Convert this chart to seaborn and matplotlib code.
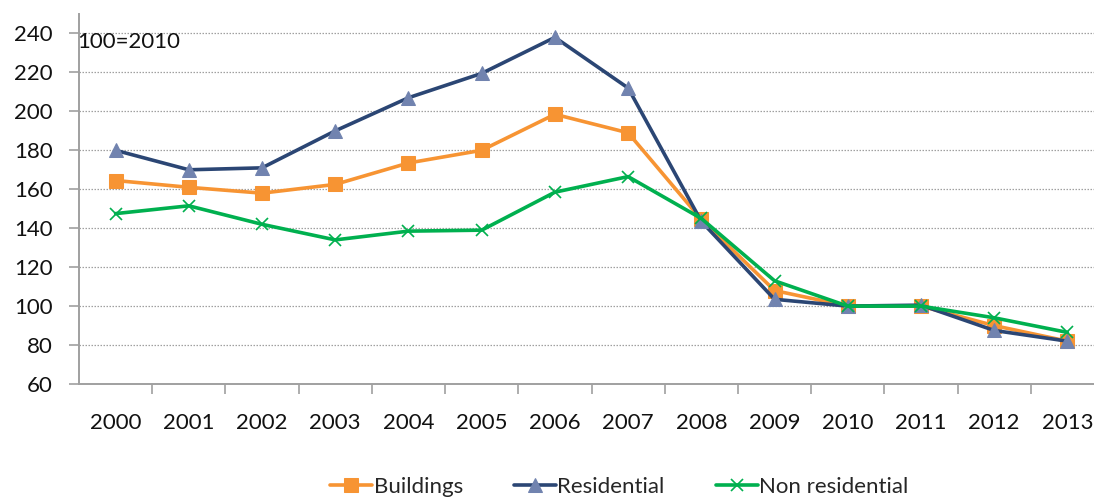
import matplotlib
matplotlib.use("Agg")
import matplotlib.pyplot as plt
from matplotlib.ticker import FixedLocator, NullFormatter
import seaborn as sns
import pandas as pd

years = [2000, 2001, 2002, 2003, 2004, 2005, 2006, 2007, 2008, 2009, 2010, 2011, 2012, 2013]
buildings = [164.5, 161, 158, 162.5, 173.5, 180, 198.5, 189, 144.5, 108, 100, 100, 90, 82]
residential = [180, 170, 171, 190, 207, 219.5, 238, 212, 143.5, 103.5, 100, 100.5, 87.5, 82]
non_residential = [147.5, 151.5, 142, 134, 138.5, 139, 158.5, 166.5, 145, 113, 100, 100, 94, 86.5]

df = pd.DataFrame({'year': years, 'Buildings': buildings,
                   'Residential': residential, 'Non residential': non_residential})

sns.set_style('white')
plt.rcParams['font.family'] = ['Lato', 'DejaVu Sans']
fs = 16

fig = plt.figure(figsize=(10.94, 5.04), dpi=100)
ax = fig.add_axes([79 / 1094, 120 / 504, 1025 / 1094, 370 / 504])

sns.lineplot(data=df, x='year', y='Buildings', ax=ax, color='#F79433', lw=2.6,
             marker='s', markersize=9.5, markerfacecolor='#F79433', markeredgecolor='#F79433',
             label='Buildings')
sns.lineplot(data=df, x='year', y='Residential', ax=ax, color='#2B4674', lw=2.6,
             marker='^', markersize=10, markerfacecolor='#7183AF', markeredgecolor='#7183AF',
             label='Residential')
sns.lineplot(data=df, x='year', y='Non residential', ax=ax, color='#00B04F', lw=2.6,
             marker='x', markersize=8, markeredgewidth=1.2, markeredgecolor='#00B04F',
             label='Non residential')

ax.set_xlim(1999.5, 2013.5)
ax.set_ylim(60, 250)
ax.yaxis.set_major_locator(FixedLocator(list(range(60, 241, 20))))
ax.xaxis.set_major_locator(FixedLocator(years))
ax.xaxis.set_minor_locator(FixedLocator([y + 0.5 for y in years]))
ax.xaxis.set_minor_formatter(NullFormatter())
ax.tick_params(axis='x', which='major', length=0, pad=21, labelsize=fs)
ax.tick_params(axis='x', which='minor', length=7, width=1.2, color='#A0A0A0', direction='out', bottom=True)
ax.tick_params(axis='y', length=7, width=1.2, color='#A0A0A0', direction='out', left=True,
               pad=12, labelsize=fs)
for lbl in ax.get_xticklabels() + ax.get_yticklabels():
    lbl.set_color('#111111')

ax.grid(axis='y', linestyle=(0, (1.2, 1.2)), color='#A0A0A0', lw=0.9)
ax.set_axisbelow(True)
for s in ['top', 'right']:
    ax.spines[s].set_visible(False)
for s in ['left', 'bottom']:
    ax.spines[s].set_color('#A0A0A0')
    ax.spines[s].set_linewidth(1.4)

ax.set_xlabel('')
ax.set_ylabel('')
ax.text(1999.47, 241, '100=2010', fontsize=fs, ha='left', va='top', color='#111111')

handles, labels = ax.get_legend_handles_labels()
ax.get_legend().remove()
fig.legend(handles, labels, loc='center', bbox_to_anchor=(0.566, 0.034), ncol=3,
           frameon=False, fontsize=fs, handlelength=1.9, handletextpad=0.05, columnspacing=2.3)

fig.savefig('out.png', dpi=100)
